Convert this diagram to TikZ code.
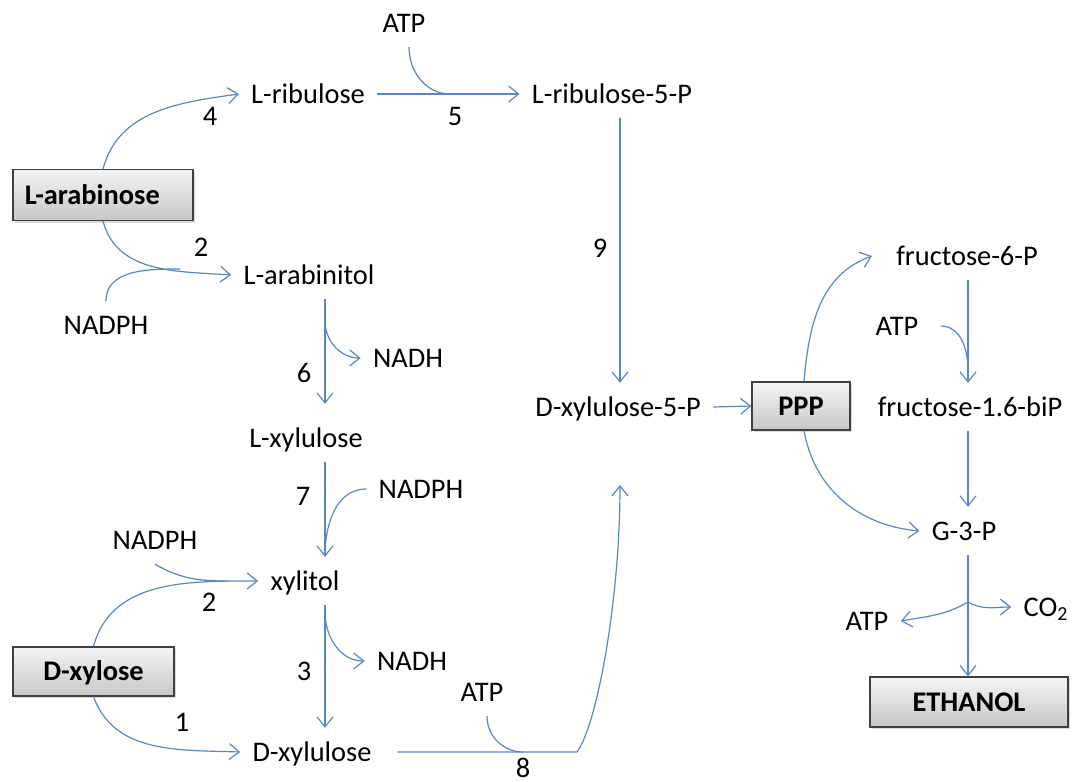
\documentclass[tikz,border=0pt]{standalone}
\usepackage{fontspec}
\setmainfont{Carlito}
\usepackage{tikz}
\usetikzlibrary{arrows.meta,shadows}
\definecolor{pathblue}{RGB}{88,136,196}

\begin{document}
\begin{tikzpicture}[x=0.5pt, y=0.5pt,
    met/.style={inner xsep=6pt, inner ysep=5.5pt, text height=11pt, text depth=1.8pt, font=\fontsize{14.2}{16}\selectfont},
    num/.style={inner sep=0pt, font=\fontsize{14.2}{16}\selectfont},
    box/.style={rectangle, draw=black!75, line width=0.6pt, top color=white!96!black, bottom color=black!22, drop shadow={opacity=0.3, shadow xshift=1.2pt, shadow yshift=-1.2pt}, minimum height=25pt, inner sep=0pt, text height=9.2pt, text depth=0pt, font=\fontsize{14.2}{16}\selectfont\bfseries},
    arrow/.style={-{Straight Barb[length=5pt, width=8pt]}, draw=pathblue, line width=0.6pt},
    side/.style={draw=pathblue, line width=0.6pt}
]
    \useasboundingbox (0,0) rectangle (1077,-782);

    \node[met] (atpa) at (404,-23) {ATP};
    \node[met] (lrib) at (308,-94) {L-ribulose};
    \node[met] (lribp) at (612,-94) {L-ribulose-5-P};
    \node[box, text width=78pt, inner xsep=6pt, align=left, minimum height=25.5pt] (larab) at (103,-195) {L-arabinose};
    \node[met] (larol) at (309,-275) {L-arabinitol};
    \node[met] (nadpha) at (106,-325) {NADPH};
    \node[met] (nadha) at (408,-358) {NADH};
    \node[met] (lxyl) at (306,-438) {L-xylulose};
    \node[met] (nadphb) at (421,-489) {NADPH};
    \node[met] (nadphc) at (155,-540) {NADPH};
    \node[met] (xol) at (305,-581) {xylitol};
    \node[box, minimum width=80.5pt, minimum height=24.5pt] (dxyl) at (93.5,-671.5) {D-xylose};
    \node[met] (nadhb) at (412,-661) {NADH};
    \node[met] (atpb) at (482,-692) {ATP};
    \node[met] (dxul) at (312,-752) {D-xylulose};
    \node[met] (dxulp) at (618,-407) {D-xylulose-5-P};
    \node[box, minimum width=49pt, minimum height=24pt] (ppp) at (801,-406) {PPP};
    \node[met] (fsix) at (967,-256) {fructose-6-P};
    \node[met] (atpc) at (897,-326) {ATP};
    \node[met] (fbip) at (970,-407) {fructose-1.6-biP};
    \node[met] (gap) at (964,-531) {G-3-P};
    \node[met] (atpd) at (867,-621) {ATP};
    \node[met] (co2) at (1046,-607) {CO\textsubscript{2}};
    \node[box, minimum width=99pt] (eth) at (969,-702) {ETHANOL};

    \node[num] (r1) at (182,-722) {1};
    \node[num] (r2a) at (201,-247) {2};
    \node[num] (r2b) at (209,-602) {2};
    \node[num] (r3) at (304,-671) {3};
    \node[num] (r4) at (210,-116) {4};
    \node[num] (r5) at (455,-116) {5};
    \node[num] (r6) at (304,-373) {6};
    \node[num] (r7) at (303,-496) {7};
    \node[num] (r8) at (523,-768) {8};
    \node[num] (r9) at (600,-248) {9};

    \coordinate (colm) at (325,0);
    \coordinate (colr) at (620,0);
    \coordinate (colf) at (968,0);
    \coordinate (m2a) at (180,-269);
    \coordinate (m5) at (450,-94);
    \coordinate (b6) at (325,-321);
    \coordinate (m7) at (325,-556);
    \coordinate (m2b) at (228,-581);
    \coordinate (b3) at (325,-612);
    \coordinate (m8) at (523,-752);
    \coordinate (k8) at (577,-752);
    \coordinate (t8) at (620,-485);
    \coordinate (m16) at (968,-370);
    \coordinate (bg) at (968,-602);

    \draw[arrow] (larab.north) to[out=75, in=188] (lrib.west);
    \draw[arrow] (larab.south) to[out=-75, in=176] (larol.west);
    \draw[side] (nadpha.north) to[out=90, in=180] (m2a);
    \draw[arrow] (lrib.east) -- (lribp.west);
    \draw[side] ([xshift=2.5pt]atpa.south) to[out=-90, in=180] (m5);
    \draw[arrow] (lribp.south -| colr) -- (dxulp.north -| colr);

    \draw[arrow] (larol.south -| colm) -- ([yshift=5pt]lxyl.north -| colm);
    \draw[arrow] (b6) to[out=-90, in=180] (nadha.west);
    \draw[arrow] (lxyl.south -| colm) -- (xol.north -| colm);
    \draw[side] (nadphb.west) to[out=180, in=90] (m7);
    \draw[arrow] (dxyl.north) to[out=75, in=180] (xol.west);
    \draw[side] (nadphc.south) to[out=-30, in=180] (m2b);
    \draw[arrow] (xol.south -| colm) -- (dxul.north -| colm);
    \draw[arrow] (b3) to[out=-90, in=180] (nadhb.west);
    \draw[arrow] (dxyl.south) to[out=-70, in=178] (dxul.west);

    \draw[arrow] ([xshift=7pt]dxul.east) -- (k8) .. controls (597,-725) and (620,-600) .. (t8);
    \draw[side] ([xshift=2.5pt]atpb.south) to[out=-90, in=180] (m8);

    \draw[arrow] (dxulp.east) -- (ppp.west);
    \draw[arrow] ([xshift=1.5pt]ppp.north) to[out=85, in=200] ([xshift=-6pt]fsix.west);
    \draw[arrow] ([xshift=1.5pt]ppp.south) to[out=-80, in=175] (gap.west);
    \draw[arrow] (fsix.south -| colf) -- (fbip.north -| colf);
    \draw[side] ([xshift=5pt]atpc.east) to[out=0, in=90] (m16);
    \draw[arrow] (fbip.south -| colf) -- (gap.north -| colf);
    \draw[arrow] (gap.south -| colf) -- (eth.north -| colf);
    \draw[arrow] (bg) to[out=-150, in=10] (atpd.east);
    \draw[arrow] (bg) to[out=-30, in=180] (co2.west);
\end{tikzpicture}
\end{document}
